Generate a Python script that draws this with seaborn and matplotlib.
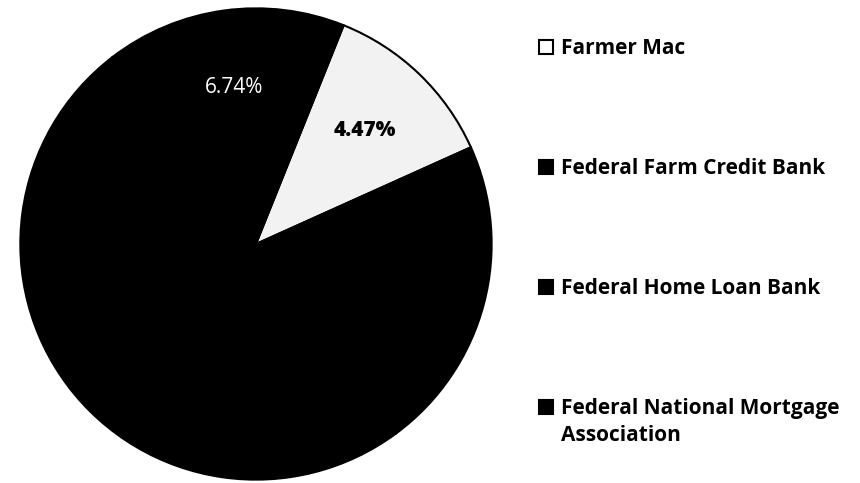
import matplotlib
matplotlib.use("Agg")
import matplotlib.pyplot as plt
import seaborn as sns
import numpy as np
from matplotlib.patches import Rectangle

sns.set_theme(style="white")
plt.rcParams['font.family'] = ['Open Sans', 'DejaVu Sans']

# data (shares in %, slice label texts)
agencies = ['Farmer Mac', 'Federal Farm Credit Bank', 'Federal Home Loan Bank',
            'Federal National Mortgage\nAssociation']
shares = [12.2, 21.6, 49.7, 16.5]
slice_labels = ['4.47%', '', '', '6.74%']
slice_colors = ['#f2f2f2', '#000000', '#000000', '#000000']
label_colors = ['black', 'white', 'white', 'white']
label_weights = ['heavy', 'normal', 'normal', 'normal']

fig = plt.figure(figsize=(8.6, 4.83), dpi=100)
ax = fig.add_axes([0.0209, 0.0021, 0.5535, 0.9855])

wedges, _ = ax.pie(shares, colors=slice_colors, startangle=68.15, counterclock=False,
                   wedgeprops=dict(edgecolor='black', linewidth=1.5))
ax.set_xlim(-1.01, 1.01)
ax.set_ylim(-1.01, 1.01)
ax.set_aspect('equal')
ax.axis('off')

for w, txt, c, fw in zip(wedges, slice_labels, label_colors, label_weights):
    if not txt:
        continue
    mid = np.deg2rad((w.theta1 + w.theta2) / 2)
    ax.text(0.67 * np.cos(mid), 0.67 * np.sin(mid), txt, color=c, fontsize=15,
            fontweight=fw, ha='center', va='center')

# legend drawn by hand so the entries sit far apart like the original
for i, (name, col) in enumerate(zip(agencies, slice_colors)):
    y = 0.903 - i * 0.2484
    fc = 'white' if i == 0 else 'black'
    fig.add_artist(Rectangle((0.6265, y - 0.015), 0.0165, 0.0295, transform=fig.transFigure,
                             facecolor=fc, edgecolor='black', linewidth=1.5))
    fig.text(0.652, y + 0.0175, name, fontsize=15, fontweight='bold', color='black',
             ha='left', va='top', linespacing=1.33)

fig.savefig('out.png', dpi=100, facecolor='white')
